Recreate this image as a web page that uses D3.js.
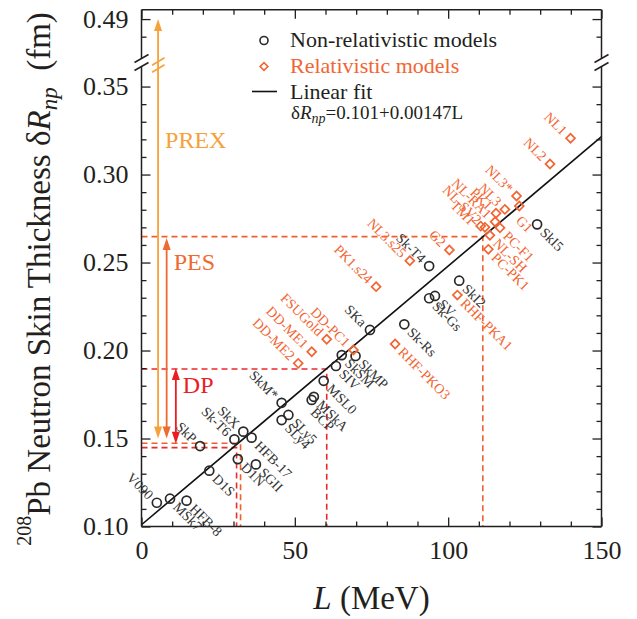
<!DOCTYPE html>
<html><head><meta charset="utf-8">
<script src="https://cdn.jsdelivr.net/npm/d3@7"></script>
<style>
body{margin:0;background:#fff}
svg{display:block}
text{font-family:"Liberation Serif","Times New Roman",serif}
</style>
</head><body>
<svg id="c" width="637" height="619"></svg>
<script>
// ---------------- data ----------------
const nonRelNames = ["V090","MSk7","HFB-8","D1S","SkP","Sk-T6","SkX","HFB-17","D1N","SGII","SkM*","SLy5","SLy4","MSkA","BCP","MSL0","SIV","SkSM","SkMP","SKa","Sk-Rs","Sk-Gs","SV","SkI2","Sk-T4","SkI5"];
const nonRelL    = [5.0, 9.3, 14.7, 22.1, 19.1, 30.3, 33.2, 35.9, 31.4, 37.3, 45.7, 47.9, 45.7, 56.2, 55.5, 59.4, 63.4, 65.3, 69.8, 74.5, 85.7, 93.8, 95.7, 103.6, 93.8, 129.0];
const nonRelDR   = [0.1135,0.1158,0.1147,0.1317,0.1457,0.1495,0.1539,0.1505,0.1383,0.1353,0.1703,0.1634,0.1605,0.1737,0.1719,0.1828,0.1912,0.1974,0.1969,0.2117,0.2149,0.2297,0.2310,0.2397,0.2480,0.2717];

const relNames = ["DD-ME2","DD-ME1","FSUGold","DD-PC1","RHF-PKO3","PK1.s24","NL3.s25","G2","RHF-PKA1","PC-PK1","NL-SH","TM1","NL-SV2","PC-F1","NL-RA1","PK1","NL3","G1","NL3*","NL2","NL1"];
const relL     = [51.1, 55.5, 60.4, 69.1, 82.7, 76.5, 87.5, 100.4, 103.0, 113.1, 113.6, 110.6, 112.0, 116.9, 115.3, 115.6, 118.5, 123.2, 122.3, 133.2, 139.9];
const relDR    = [0.1927,0.1993,0.2064,0.2003,0.2037,0.2363,0.2510,0.2571,0.2315,0.2575,0.2655,0.2707,0.2700,0.2697,0.2732,0.2780,0.2802,0.2821,0.2878,0.3060,0.3206];

// models whose label sits on the upper-left side of the marker
const upperLeftLabels = ["V090","SkP","Sk-T6","SkX","SkM*","SKa","Sk-T4","DD-ME2","DD-ME1","FSUGold","DD-PC1","PK1.s24","NL3.s25","G2","TM1","NL-SV2","NL-RA1","PK1","NL3","NL3*","NL2","NL1"];

const xTicks = [0, 50, 100, 150];
const xMinorTicks = [10,20,30,40,60,70,80,90,110,120,130,140];
const yTicks = [0.10, 0.15, 0.20, 0.25, 0.30, 0.35, 0.49];
const yMinorTicks = [0.11,0.12,0.13,0.14,0.16,0.17,0.18,0.19,0.21,0.22,0.23,0.24,0.26,0.27,0.28,0.29,0.31,0.32,0.33,0.34,0.48];

const fitIntercept = 0.101, fitSlope = 0.00147;

// constraint arrows
const constraintNames = ["PREX","PES","DP"];
const arrowL    = [5.4, 8.2, 11.2];
const arrowLow  = [0.150, 0.150, 0.147];
const arrowHigh = [0.490, 0.264, 0.190];

// dashed guide lines (delta R value and corresponding L)
const guideSet = ["PES","PES","DP","DP"];
const guideDR  = [0.2647, 0.1473, 0.1895, 0.1448];
const guideL   = [111.3, 32.3, 60.4, 31.0];

// ---------------- styles ----------------
const C = {axis:"#231f20", nonrel:"#2a2a2a", nonrelText:"#333333", rel:"#f26532",
           PREX:"#f7a13a", PES:"#ef6a30", DP:"#ec1c24"};
const guideColor = {PES:"#f0602e", DP:"#ec2a2a"};
const labelNudge = {"G1":9, "BCP":6, "TM1":3};

const svg = d3.select("#c");
const x = d3.scaleLinear().domain([0,150]).range([141.5,601.5]);
const y = d3.scaleLinear().domain([0.10,0.3614,0.4676,0.4953]).range([526.5,66.5,58.5,9.75]);
const [X0,X1] = x.range();
const Ybot = y(0.10), Ytop = y(0.4953), brkLo = 66.5, brkHi = 58.5;

// ---------------- guides ----------------
const gGuide = svg.append("g");
guideSet.forEach((s,i)=>{
  const yy = y(guideDR[i]), xx = x(guideL[i]);
  gGuide.append("path")
    .attr("d",`M${X0},${yy}H${xx}V${Ybot}`)
    .attr("fill","none").attr("stroke",guideColor[s]).attr("stroke-width",1.6)
    .attr("stroke-dasharray","6,4");
});

// ---------------- fit line ----------------
svg.append("line")
  .attr("x1",x(0)).attr("y1",y(fitIntercept))
  .attr("x2",x(150)).attr("y2",y(fitIntercept+fitSlope*150))
  .attr("stroke","#111").attr("stroke-width",1.6);

// ---------------- arrows ----------------
const gArr = svg.append("g");
const headLen = 12, headHalf = 4;
constraintNames.forEach((n,i)=>{
  const xx = x(arrowL[i]), yLo = y(arrowLow[i]), yHi = y(arrowHigh[i]);
  const col = C[n];
  gArr.append("line").attr("x1",xx).attr("x2",xx).attr("y1",yLo-headLen+2).attr("y2",yHi+headLen-2)
    .attr("stroke",col).attr("stroke-width",1.8);
  gArr.append("path").attr("d",`M${xx},${yHi}L${xx-headHalf},${yHi+headLen}L${xx+headHalf},${yHi+headLen}Z`).attr("fill",col);
  gArr.append("path").attr("d",`M${xx},${yLo}L${xx-headHalf},${yLo-headLen}L${xx+headHalf},${yLo-headLen}Z`).attr("fill",col);
});
// break marks on PREX arrow
[61.5,68.5].forEach(yy=>{
  gArr.append("line").attr("x1",x(arrowL[0])-6).attr("y1",yy+3.8).attr("x2",x(arrowL[0])+6.5).attr("y2",yy-3.8)
    .attr("stroke",C.PREX).attr("stroke-width",1.6);
});
// constraint labels
const conLabelDR = [0.315, 0.2457, 0.1759];
const conLabelDx = [7, 7, 7];
constraintNames.forEach((n,i)=>{
  svg.append("text").attr("x",x(arrowL[i])+conLabelDx[i]).attr("y",y(conLabelDR[i]))
    .attr("fill",C[n]).style("font-size","24px").text(n);
});

// ---------------- frame & axes ----------------
const gF = svg.append("g").attr("stroke",C.axis).attr("stroke-width",1.5).attr("fill","none");
gF.append("path").attr("d",`M${X0},${Ytop}H${X1}`);
gF.append("path").attr("d",`M${X0},${Ybot}H${X1}`);
[X0,X1].forEach(xx=>{
  gF.append("path").attr("d",`M${xx},${Ybot}V${brkLo}M${xx},${brkHi}V${Ytop}`);
  [brkHi, brkLo].forEach(yy=>{
    gF.append("line").attr("x1",xx-7).attr("y1",yy+4).attr("x2",xx+7).attr("y2",yy-4);
  });
});

function styleAxis(g){
  g.select(".domain").remove();
  g.selectAll(".tick line").attr("stroke",C.axis).attr("stroke-width",1.3);
  g.selectAll(".tick text").attr("fill","#231f20").style("font-size","26px").style("font-family",'"Liberation Serif","Times New Roman",serif');
}
svg.append("g").attr("transform",`translate(0,${Ybot})`)
  .call(d3.axisBottom(x).tickValues(xTicks).tickSize(-9).tickPadding(14).tickFormat(d3.format("d"))).call(styleAxis);
svg.append("g").attr("transform",`translate(0,${Ybot})`)
  .call(d3.axisBottom(x).tickValues(xMinorTicks).tickSize(-5).tickFormat("")).call(styleAxis);
svg.append("g").attr("transform",`translate(0,${Ytop})`)
  .call(d3.axisTop(x).tickValues(xTicks).tickSize(-9).tickFormat("")).call(styleAxis);
svg.append("g").attr("transform",`translate(0,${Ytop})`)
  .call(d3.axisTop(x).tickValues(xMinorTicks).tickSize(-5).tickFormat("")).call(styleAxis);
svg.append("g").attr("transform",`translate(${X0},0)`)
  .call(d3.axisLeft(y).tickValues(yTicks).tickSize(-9).tickPadding(13).tickFormat(d3.format(".2f"))).call(styleAxis);
svg.append("g").attr("transform",`translate(${X0},0)`)
  .call(d3.axisLeft(y).tickValues(yMinorTicks).tickSize(-5).tickFormat("")).call(styleAxis);
svg.append("g").attr("transform",`translate(${X1},0)`)
  .call(d3.axisRight(y).tickValues(yTicks).tickSize(-9).tickFormat("")).call(styleAxis);
svg.append("g").attr("transform",`translate(${X1},0)`)
  .call(d3.axisRight(y).tickValues(yMinorTicks).tickSize(-5).tickFormat("")).call(styleAxis);

// axis titles
const xt = svg.append("text").attr("x",(X0+X1)/2).attr("y",609).attr("text-anchor","middle")
  .style("font-size","33px").attr("fill","#231f20");
xt.append("tspan").text("L").style("font-style","italic");
xt.append("tspan").text(" (MeV)");

const yt = svg.append("text").attr("transform","translate(50,279) rotate(-90)").attr("text-anchor","middle")
  .style("font-size","33px").attr("fill","#231f20");
yt.append("tspan").text("208").style("font-size","20px").attr("dy",-19);
yt.append("tspan").text("Pb Neutron Skin Thickness δ").attr("dy",19);
yt.append("tspan").text("R").style("font-style","italic");
yt.append("tspan").text("np").style("font-style","italic").style("font-size","23px").attr("dy",7);
yt.append("tspan").text("\u00a0\u00a0(fm)").attr("dy",-7);

// ---------------- markers ----------------
const ulSet = new Set(upperLeftLabels);
const gM = svg.append("g");
gM.selectAll("circle.nr").data(nonRelNames).enter().append("circle")
  .attr("cx",(d,i)=>x(nonRelL[i])).attr("cy",(d,i)=>y(nonRelDR[i])).attr("r",4.5)
  .attr("fill","none").attr("stroke",C.nonrel).attr("stroke-width",1.7);
const diamond = d3.symbol().type(d3.symbolSquare).size(40);
gM.selectAll("path.rel").data(relNames).enter().append("path")
  .attr("d",diamond)
  .attr("transform",(d,i)=>`translate(${x(relL[i])},${y(relDR[i])}) rotate(45)`)
  .attr("fill","none").attr("stroke",C.rel).attr("stroke-width",1.7);

function labels(names, Ls, DRs, color){
  svg.append("g").selectAll("text").data(names).enter().append("text")
    .attr("transform",(d,i)=>`translate(${x(Ls[i])},${y(DRs[i])}) rotate(45)`)
    .attr("x",d=>ulSet.has(d)?-8:8)
    .attr("y",d=>4.8+(labelNudge[d]||0))
    .attr("text-anchor",d=>ulSet.has(d)?"end":"start")
    .attr("fill",color).style("font-size","14px").text(d=>d);
}
labels(nonRelNames, nonRelL, nonRelDR, C.nonrelText);
labels(relNames, relL, relDR, C.rel);

// ---------------- legend ----------------
const lg = svg.append("g");
lg.append("circle").attr("cx",264).attr("cy",40.5).attr("r",4).attr("fill","none").attr("stroke",C.nonrel).attr("stroke-width",1.6);
lg.append("text").attr("x",290).attr("y",47).style("font-size","22px").attr("fill","#231f20").text("Non-relativistic models");
lg.append("path").attr("d",d3.symbol().type(d3.symbolSquare).size(30)).attr("transform","translate(264,66.5) rotate(45)")
  .attr("fill","none").attr("stroke",C.rel).attr("stroke-width",1.6);
lg.append("text").attr("x",290).attr("y",73).style("font-size","22px").attr("fill",C.rel).text("Relativistic models");
lg.append("line").attr("x1",252).attr("x2",277).attr("y1",91.5).attr("y2",91.5).attr("stroke","#111").attr("stroke-width",1.6);
lg.append("text").attr("x",290).attr("y",99).style("font-size","22px").attr("fill","#231f20").text("Linear fit");
const fm = lg.append("text").attr("x",291).attr("y",119).style("font-size","19px").attr("fill","#231f20");
fm.append("tspan").text("δ");
fm.append("tspan").text("R").style("font-style","italic");
fm.append("tspan").text("np").style("font-style","italic").style("font-size","14px").attr("dy",4);
fm.append("tspan").text(`=${fitIntercept}+${fitSlope}L`).attr("dy",-4);
</script>
</body></html>
